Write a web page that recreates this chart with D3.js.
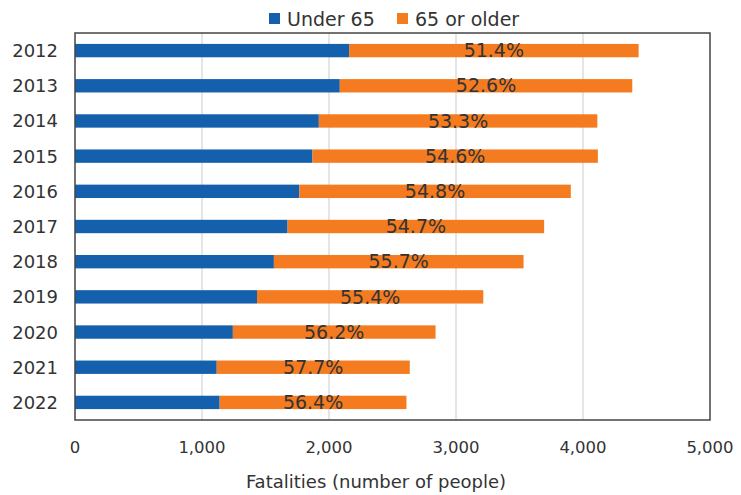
<!DOCTYPE html>
<html>
<head>
<meta charset="utf-8">
<script src="https://cdn.jsdelivr.net/npm/d3@7"></script>
<style>
  body { margin: 0; background: #fff; }
  text { font-family: "DejaVu Sans", sans-serif; fill: #333; }
</style>
</head>
<body>
<script>
const width = 741;
const height = 495;

// data
const years = ["2012", "2013", "2014", "2015", "2016", "2017", "2018", "2019", "2020", "2021", "2022"];
const under65 = [2158, 2085, 1920, 1870, 1766, 1674, 1566, 1433, 1243, 1116, 1139];
const older65 = [2280, 2303, 2193, 2247, 2138, 2020, 1966, 1782, 1596, 1520, 1471];
const shareLabels = ["51.4%", "52.6%", "53.3%", "54.6%", "54.8%", "54.7%", "55.7%", "55.4%", "56.2%", "57.7%", "56.4%"];
const xTicks = [0, 1000, 2000, 3000, 4000, 5000];
const seriesNames = ["Under 65", "65 or older"];
const colors = ["#1560ad", "#f47b20"];

const margin = { top: 33, right: 31, bottom: 75, left: 75 };

let svg = d3.select("body").append("svg")
    .attr("width", width)
    .attr("height", height)

let x = d3.scaleLinear()
    .domain([0, 5000])
    .range([margin.left, width - margin.right]);

let y = d3.scaleBand()
    .domain(years)
    .range([margin.top, height - margin.bottom])
    .paddingInner(0.62)
    .paddingOuter(0.31);

// gridlines
svg.append("g")
    .selectAll("line")
    .data(xTicks.slice(1, -1))
    .enter()
    .append("line")
    .attr("x1", d => x(d))
    .attr("x2", d => x(d))
    .attr("y1", margin.top)
    .attr("y2", height - margin.bottom)
    .attr("stroke", "#dcdcdc")
    .attr("stroke-width", 1.5);

let rows = years.map((yr, i) => ({ year: yr, a: under65[i], b: older65[i], label: shareLabels[i] }));

let barG = svg.append("g")
barG.selectAll(".under")
    .data(rows)
    .enter()
    .append("rect")
    .attr("class", "under")
    .attr("x", x(0))
    .attr("y", d => y(d.year))
    .attr("width", d => x(d.a) - x(0))
    .attr("height", y.bandwidth())
    .attr("fill", colors[0]);

barG.selectAll(".older")
    .data(rows)
    .enter()
    .append("rect")
    .attr("class", "older")
    .attr("x", d => x(d.a))
    .attr("y", d => y(d.year))
    .attr("width", d => x(d.a + d.b) - x(d.a))
    .attr("height", y.bandwidth())
    .attr("fill", colors[1]);

barG.selectAll(".pct")
    .data(rows)
    .enter()
    .append("text")
    .attr("class", "pct")
    .attr("x", d => x(d.a + d.b / 2))
    .attr("y", d => y(d.year) + y.bandwidth())
    .attr("text-anchor", "middle")
    .attr("font-size", 19)
    .text(d => d.label);

// frame
svg.append("rect")
    .attr("x", margin.left)
    .attr("y", margin.top)
    .attr("width", width - margin.right - margin.left)
    .attr("height", height - margin.bottom - margin.top)
    .attr("fill", "none")
    .attr("stroke", "#444")
    .attr("stroke-width", 1.5);

// y labels
svg.append("g")
    .selectAll("text")
    .data(years)
    .enter()
    .append("text")
    .attr("x", 58)
    .attr("y", d => y(d) + y.bandwidth() / 2)
    .attr("dy", "0.36em")
    .attr("text-anchor", "end")
    .attr("font-size", 18)
    .text(d => d);

// x tick labels
svg.append("g")
    .selectAll("text")
    .data(xTicks)
    .enter()
    .append("text")
    .attr("x", d => x(d))
    .attr("y", 453)
    .attr("text-anchor", "middle")
    .attr("font-size", 16.5)
    .text(d => d3.format(",")(d));

svg.append("text")
    .attr("x", 376)
    .attr("y", 488)
    .attr("text-anchor", "middle")
    .attr("font-size", 18)
    .text("Fatalities (number of people)");

// legend
let legend = svg.append("g")
let legendX = [269, 397];
seriesNames.forEach((name, i) => {
    legend.append("rect")
        .attr("x", legendX[i])
        .attr("y", 13)
        .attr("width", 11)
        .attr("height", 11)
        .attr("fill", colors[i]);
    legend.append("text")
        .attr("x", legendX[i] + 18)
        .attr("y", 26)
        .attr("font-size", 19)
        .text(name);
});
</script>
</body>
</html>
